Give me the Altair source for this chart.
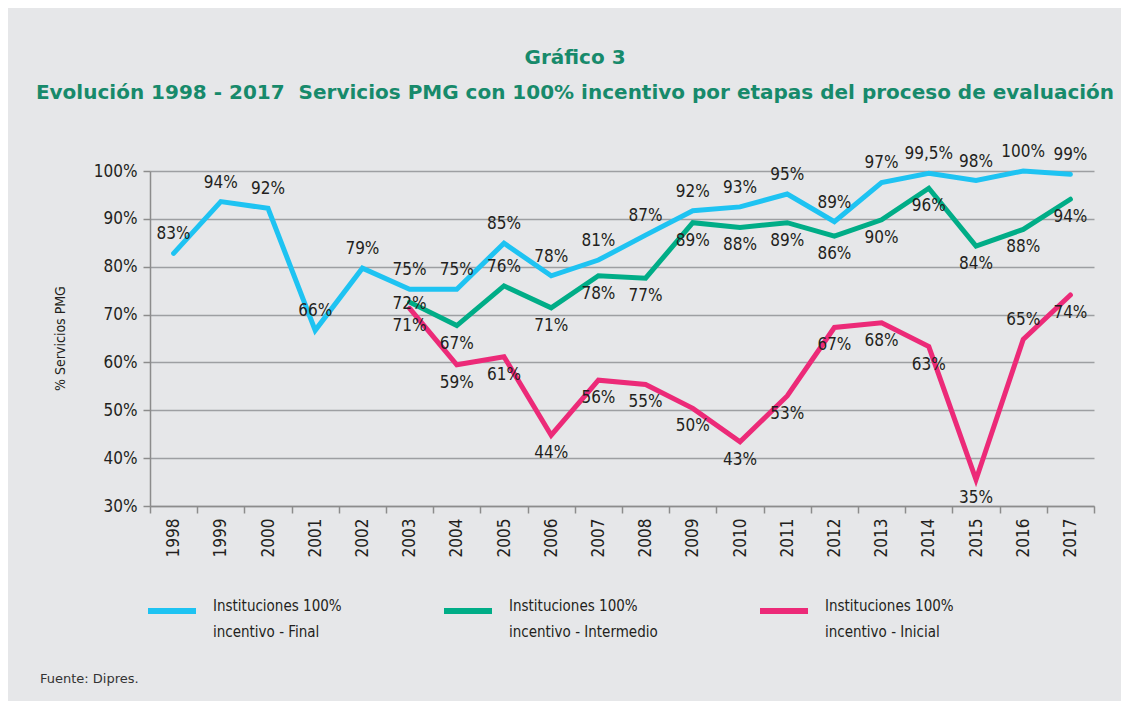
import altair as alt
import pandas as pd

years = list(range(1998, 2018))

final_vals = [82.8, 93.6, 92.2, 66.7, 79.7, 75.3, 75.3, 84.9, 78.1, 81.4,
              86.6, 91.7, 92.5, 95.2, 89.4, 97.6, 99.5, 98.0, 100.0, 99.3]
final_labels = ["83%", "94%", "92%", "66%", "79%", "75%", "75%", "85%", "78%", "81%",
                "87%", "92%", "93%", "95%", "89%", "97%", "99,5%", "98%", "100%", "99%"]
final_side = ["top"] * 20

stage_years = list(range(2003, 2018))
inter_vals = [72.6, 67.7, 76.0, 71.4, 78.1, 77.6, 89.2, 88.2, 89.2, 86.4,
              89.8, 96.4, 84.3, 87.8, 94.1]
inter_labels = ["72%", "67%", "76%", "71%", "78%", "77%", "89%", "88%", "89%", "86%",
                "90%", "96%", "84%", "88%", "94%"]
inter_side = ["center", "bottom", "top"] + ["bottom"] * 12

inic_vals = [71.3, 59.5, 61.2, 44.8, 56.3, 55.4, 50.4, 43.4, 53.0, 67.3,
             68.3, 63.3, 35.5, 64.8, 74.1]
inic_labels = ["71%", "59%", "61%", "44%", "56%", "55%", "50%", "43%", "53%", "67%",
               "68%", "63%", "35%", "65%", "74%"]
inic_side = ["bottom"] * 13 + ["top", "bottom"]

series_names = ["Instituciones 100%|incentivo - Final",
                "Instituciones 100%|incentivo - Intermedio",
                "Instituciones 100%|incentivo - Inicial"]
series_colors = ["#1ec3f2", "#00ad87", "#ec2a78"]

y_ticks = [30, 40, 50, 60, 70, 80, 90, 100]

rows = []
for s, yrs, vals, labs, sides in [
    (series_names[0], years, final_vals, final_labels, final_side),
    (series_names[1], stage_years, inter_vals, inter_labels, inter_side),
    (series_names[2], stage_years, inic_vals, inic_labels, inic_side),
]:
    for yv, v, l, sd in zip(yrs, vals, labs, sides):
        rows.append({"year": str(yv), "value": v, "label": l, "side": sd, "series": s})
df = pd.DataFrame(rows)

NARROW = "DejaVu Sans Condensed, Liberation Sans Narrow, Roboto, sans-serif"
TXT = "#231f20"

x_enc = alt.X("year:O", title=None,
              scale=alt.Scale(type="band", paddingInner=0, paddingOuter=0),
              axis=alt.Axis(labelAngle=270, tickBand="extent", grid=False,
                            labelFont=NARROW, labelFontSize=17, labelColor=TXT,
                            labelPadding=5, tickSize=7, tickColor="#8c8c8c",
                            domainColor="#8c8c8c", domainWidth=1.5, tickWidth=1.5))
y_enc = alt.Y("value:Q", title="% Servicios PMG",
              scale=alt.Scale(domain=[30, 100], nice=False, zero=False),
              axis=alt.Axis(values=y_ticks, labelExpr="datum.value + '%'",
                            labelFont=NARROW, labelFontSize=17, labelColor=TXT,
                            labelPadding=6, tickSize=7, tickColor="#8c8c8c",
                            domainColor="#8c8c8c", domainWidth=1.5, tickWidth=1.5,
                            grid=True, gridColor="#9d9fa2", gridWidth=1.5,
                            titleFont=NARROW, titleFontSize=14, titleFontWeight="normal",
                            titleColor=TXT, titleAngle=270, titleX=-90, titleY=167,
                            titleAlign="center", titleBaseline="middle"))

color_enc = alt.Color("series:N",
                      scale=alt.Scale(domain=series_names, range=series_colors),
                      legend=alt.Legend(title=None, orient="none", legendX=-5, legendY=413,
                                        direction="horizontal", columns=3,
                                        symbolType="stroke", symbolSize=2304,
                                        symbolStrokeWidth=6, labelFont=NARROW,
                                        labelFontSize=15, labelColor=TXT, labelLimit=300,
                                        labelOffset=14, labelBaseline="alphabetic",
                                        labelExpr="split(datum.label, '|')",
                                        columnPadding=90))

base = alt.Chart(df)

lines = base.mark_line(strokeWidth=5, strokeJoin="miter", strokeCap="round").encode(
    x=x_enc, y=y_enc, color=color_enc, order=alt.Order("year:O"))


def labels(side, dy):
    return base.transform_filter(alt.datum.side == side).mark_text(
        dy=dy, font=NARROW, fontSize=17, color=TXT, baseline="middle"
    ).encode(x=alt.X("year:O"), y=alt.Y("value:Q"), text="label:N")


foot = alt.Chart(pd.DataFrame({"t": ["Fuente: Dipres."]})).mark_text(
    font="DejaVu Sans", fontSize=13, color="#333333", align="left", baseline="middle"
).encode(x=alt.value(-110), y=alt.value(508), text="t:N")

chart = alt.layer(
    lines, labels("top", -19), labels("bottom", 18), labels("center", 2), foot
).properties(
    width=944, height=335,
    title=alt.TitleParams(
        ["Gráfico 3",
         "Evolución 1998 - 2017\u00a0 Servicios PMG con 100% incentivo por etapas del proceso de evaluación"],
        font="DejaVu Sans", fontSize=20, fontWeight="bold", color="#178a6b",
        anchor="middle", dx=-47, offset=40, lineHeight=35),
    autosize=alt.AutoSizeParams(type="none"),
    padding={"left": 142, "top": 163, "right": 27, "bottom": 195},
).configure(background="#e6e7e9").configure_view(stroke=None)

legend_patch = [{"op": "add", "path": "/legends/0/encode/labels/update/lineHeight",
                 "value": {"value": 26}}]

chart.save("out.html", embed_options={"renderer": "svg", "actions": False,
                                      "patch": legend_patch})
